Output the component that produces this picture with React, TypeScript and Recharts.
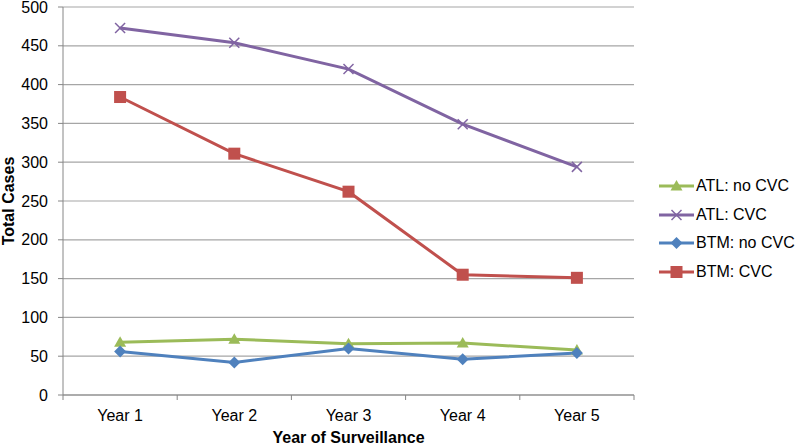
import { LineChart, Line, XAxis, YAxis, CartesianGrid } from 'recharts'

const years = ['Year 1', 'Year 2', 'Year 3', 'Year 4', 'Year 5']
const atlNoCvc = [68, 72, 66, 67, 58]
const atlCvc = [473, 454, 420, 349, 294]
const btmNoCvc = [56, 42, 60, 46, 54]
const btmCvc = [384, 311, 262, 155, 151]
const yTicks = [0, 50, 100, 150, 200, 250, 300, 350, 400, 450, 500]

const data = years.map((year, i) => ({
  year,
  atlNoCvc: atlNoCvc[i],
  atlCvc: atlCvc[i],
  btmNoCvc: btmNoCvc[i],
  btmCvc: btmCvc[i],
}))

const FONT = '"Liberation Sans", Arial, sans-serif'
const AXIS_GRAY = '#868686'
const GRID_GRAY = '#a6a6a6'

const CHART_W = 798
const CHART_H = 445
const Y_AXIS_W = 63
const RIGHT = 164
const PLOT_W = CHART_W - Y_AXIS_W - RIGHT
const BAND = PLOT_W / years.length

type Shape = 'triangle' | 'cross' | 'diamond' | 'square'

const series: { key: string; name: string; color: string; shape: Shape; size: number }[] = [
  { key: 'atlNoCvc', name: 'ATL: no CVC', color: '#9bbb59', shape: 'triangle', size: 6 },
  { key: 'atlCvc', name: 'ATL: CVC', color: '#8064a2', shape: 'cross', size: 5 },
  { key: 'btmNoCvc', name: 'BTM: no CVC', color: '#4f81bd', shape: 'diamond', size: 6 },
  { key: 'btmCvc', name: 'BTM: CVC', color: '#c0504d', shape: 'square', size: 6 },
]

// marker drawn at (cx, cy), s = half size
function Marker({ shape, cx, cy, s, color }: { shape: Shape; cx: number; cy: number; s: number; color: string }) {
  if (shape === 'triangle') {
    return <polygon points={`${cx},${cy - s} ${cx - s},${cy + s * 0.75} ${cx + s},${cy + s * 0.75}`} fill={color} />
  }
  if (shape === 'cross') {
    return (
      <g stroke={color} strokeWidth={1.5}>
        <line x1={cx - s} y1={cy - s} x2={cx + s} y2={cy + s} />
        <line x1={cx - s} y1={cy + s} x2={cx + s} y2={cy - s} />
      </g>
    )
  }
  if (shape === 'diamond') {
    return <polygon points={`${cx},${cy - s} ${cx + s},${cy} ${cx},${cy + s} ${cx - s},${cy}`} fill={color} />
  }
  return <rect x={cx - s} y={cy - s} width={s * 2} height={s * 2} fill={color} />
}

const makeDot = (shape: Shape, color: string, s: number) => (props: any) => {
  const { cx, cy, index } = props
  if (cx == null || cy == null) return <g key={index} />
  return <Marker key={index} shape={shape} cx={cx} cy={cy} s={s} color={color} />
}

function XTick(props: any) {
  const { x, y, payload, index } = props
  const last = index === years.length - 1
  return (
    <g>
      <line x1={x - BAND / 2} y1={y} x2={x - BAND / 2} y2={y + 5} stroke={AXIS_GRAY} />
      {last && <line x1={x + BAND / 2} y1={y} x2={x + BAND / 2} y2={y + 5} stroke={AXIS_GRAY} />}
      <text x={x} y={y + 26} textAnchor="middle" fill="#000" fontSize={16} fontFamily={FONT}>
        {payload.value}
      </text>
    </g>
  )
}

function ChartLegend() {
  return (
    <div style={{ position: 'absolute', left: 659, top: 172, fontFamily: FONT, fontSize: 16, color: '#000' }}>
      {series.map((s) => (
        <div key={s.key} style={{ display: 'flex', alignItems: 'center', height: 28.6 }}>
          <svg width={37} height={18} style={{ display: 'block' }}>
            <line x1={0} y1={9} x2={35} y2={9} stroke={s.color} strokeWidth={3} />
            <Marker shape={s.shape} cx={17.5} cy={9} s={s.size} color={s.color} />
          </svg>
          <span style={{ whiteSpace: 'nowrap' }}>{s.name}</span>
        </div>
      ))}
    </div>
  )
}

export default function App() {
  return (
    <div style={{ position: 'relative', width: CHART_W, height: CHART_H }}>
      <style>{'body{margin:0}'}</style>
      <LineChart
        width={CHART_W}
        height={CHART_H}
        data={data}
        margin={{ top: 7, right: RIGHT, bottom: 0, left: 0 }}
      >
        <CartesianGrid vertical={false} stroke={GRID_GRAY} strokeWidth={1.2} />
        <XAxis
          dataKey="year"
          scale="band"
          height={50}
          stroke={AXIS_GRAY}
          tickLine={false}
          tickSize={0}
          tickMargin={0}
          interval={0}
          tick={<XTick />}
          label={{
            value: 'Year of Surveillance',
            position: 'insideBottom',
            offset: 2,
            fill: '#000',
            fontSize: 16,
            fontWeight: 'bold',
            fontFamily: FONT,
          }}
        />
        <YAxis
          width={Y_AXIS_W}
          domain={[0, 500]}
          ticks={yTicks}
          interval={0}
          stroke={AXIS_GRAY}
          tickSize={5}
          tickMargin={10}
          tick={{ fill: '#000', fontSize: 16, fontFamily: FONT }}
          label={{
            content: ({ viewBox }: any) => {
              const cy = viewBox.y + viewBox.height / 2
              return (
                <text
                  x={14}
                  y={cy}
                  transform={`rotate(-90, 14, ${cy})`}
                  textAnchor="middle"
                  fill="#000"
                  fontSize={16}
                  fontWeight="bold"
                  fontFamily={FONT}
                >
                  Total Cases
                </text>
              )
            },
          }}
        />
        {series.map((s) => (
          <Line
            key={s.key}
            dataKey={s.key}
            name={s.name}
            type="linear"
            stroke={s.color}
            strokeWidth={3}
            dot={makeDot(s.shape, s.color, s.size)}
            activeDot={false}
            isAnimationActive={false}
          />
        ))}
      </LineChart>
      <ChartLegend />
    </div>
  )
}
